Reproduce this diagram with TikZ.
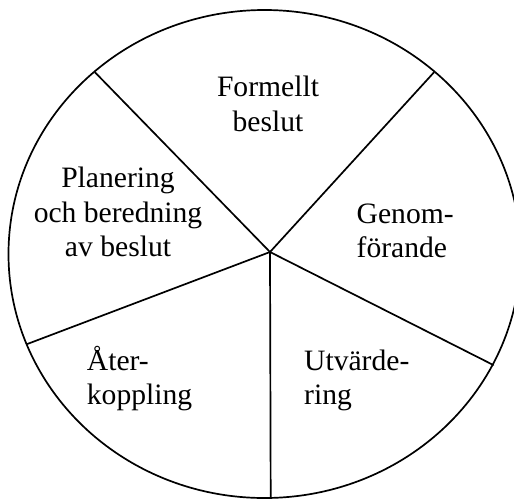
\documentclass[tikz,border=0pt]{standalone}
\usepackage{fontspec}
\setmainfont{Liberation Serif}
\usepackage{tikz}
\tikzset{
  rim/.style    = {draw=black, line width=1.7pt},
  spoke/.style  = {draw=black, line width=1.7pt, line cap=round},
  phase/.style  = {inner sep=0pt, font=\fontsize{29.6}{34.5}\selectfont},
}

\begin{document}
\begin{tikzpicture}[x=1pt, y=-1pt]
  \useasboundingbox (0,0) rectangle (514,499);
  % wheel
  \draw[rim] (264.5,254) ellipse [x radius=256pt, y radius=244pt];
  \coordinate (hub) at (270,252);
  \coordinate (tl) at (95,72.3);
  \coordinate (tr) at (434,72.3);
  \coordinate (rl) at (493.3,365);
  \coordinate (bt) at (270.7,498);
  \coordinate (ll) at (27.3,344);
  \foreach \e in {tl,tr,rl,bt,ll}
    \draw[spoke] (hub) -- (\e);
  % phases
  \node[phase, align=center] (formal) at (268,104) {Formellt\\beslut};
  \node[phase, align=center] (plan) at (118,212) {Planering\\och beredning\\av beslut};
  \node[phase, align=left, anchor=west] (exec) at (356.5,231) {Genom-\\förande};
  \node[phase, align=left, anchor=west] (eval) at (304,380.5) {Utvärde-\\ring};
  \node[phase, align=left, anchor=west] (feed) at (86.7,378.5) {Åter-\\koppling};
\end{tikzpicture}
\end{document}
